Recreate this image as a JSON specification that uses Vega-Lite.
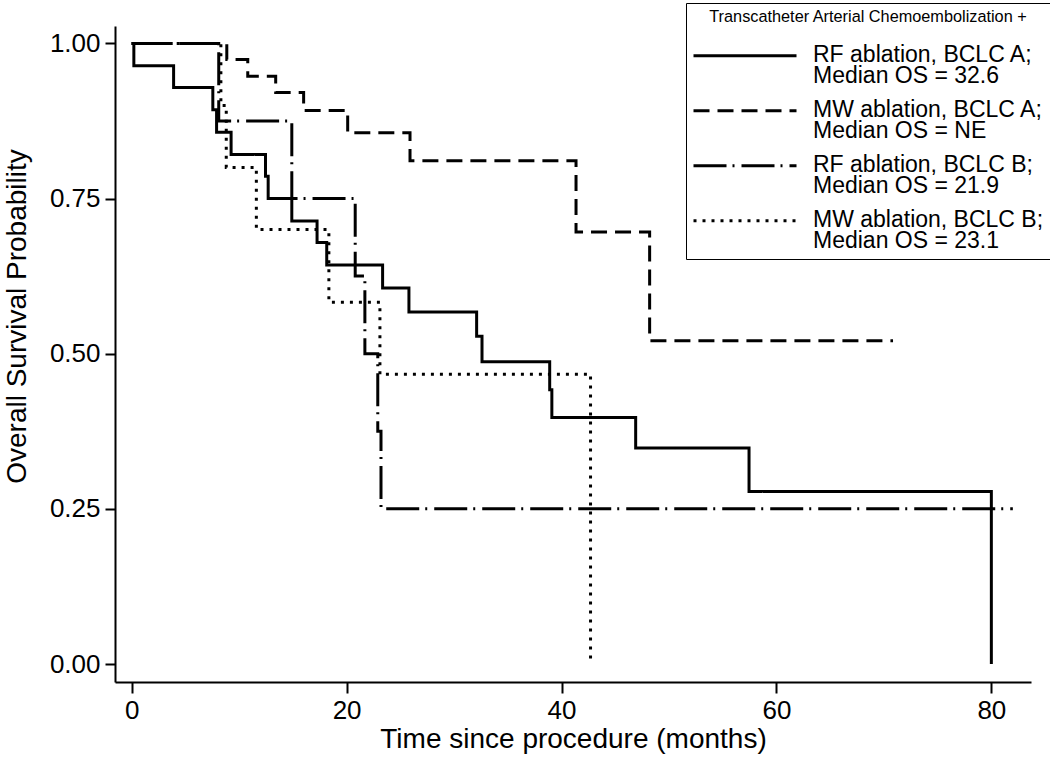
{
  "$schema": "https://vega.github.io/schema/vega-lite/v6.json",
  "width": 916,
  "height": 656,
  "autosize": {"type": "none"},
  "padding": {"left": 115, "top": 26, "right": 19, "bottom": 75},
  "background": "white",
  "config": {"view": {"stroke": null}, "font": "Liberation Sans"},
  "data": {
    "values": [
      {"group": "RF ablation, BCLC A;|Median OS = 32.6", "t": 0, "s": 1.0},
      {"group": "RF ablation, BCLC A;|Median OS = 32.6", "t": 0.2, "s": 0.964},
      {"group": "RF ablation, BCLC A;|Median OS = 32.6", "t": 3.9, "s": 0.929},
      {"group": "RF ablation, BCLC A;|Median OS = 32.6", "t": 7.55, "s": 0.893},
      {"group": "RF ablation, BCLC A;|Median OS = 32.6", "t": 7.9, "s": 0.857},
      {"group": "RF ablation, BCLC A;|Median OS = 32.6", "t": 9.25, "s": 0.821},
      {"group": "RF ablation, BCLC A;|Median OS = 32.6", "t": 12.45, "s": 0.786},
      {"group": "RF ablation, BCLC A;|Median OS = 32.6", "t": 12.7, "s": 0.75},
      {"group": "RF ablation, BCLC A;|Median OS = 32.6", "t": 14.9, "s": 0.714},
      {"group": "RF ablation, BCLC A;|Median OS = 32.6", "t": 17.25, "s": 0.679},
      {"group": "RF ablation, BCLC A;|Median OS = 32.6", "t": 18.15, "s": 0.643},
      {"group": "RF ablation, BCLC A;|Median OS = 32.6", "t": 23.35, "s": 0.606},
      {"group": "RF ablation, BCLC A;|Median OS = 32.6", "t": 25.8, "s": 0.567},
      {"group": "RF ablation, BCLC A;|Median OS = 32.6", "t": 32.1, "s": 0.528},
      {"group": "RF ablation, BCLC A;|Median OS = 32.6", "t": 32.6, "s": 0.487},
      {"group": "RF ablation, BCLC A;|Median OS = 32.6", "t": 38.9, "s": 0.442},
      {"group": "RF ablation, BCLC A;|Median OS = 32.6", "t": 39.1, "s": 0.397},
      {"group": "RF ablation, BCLC A;|Median OS = 32.6", "t": 46.9, "s": 0.348},
      {"group": "RF ablation, BCLC A;|Median OS = 32.6", "t": 57.45, "s": 0.278},
      {"group": "RF ablation, BCLC A;|Median OS = 32.6", "t": 80.0, "s": 0.0},
      {"group": "MW ablation, BCLC A;|Median OS = NE", "t": 0, "s": 1.0},
      {"group": "MW ablation, BCLC A;|Median OS = NE", "t": 8.85, "s": 0.974},
      {"group": "MW ablation, BCLC A;|Median OS = NE", "t": 10.8, "s": 0.947},
      {"group": "MW ablation, BCLC A;|Median OS = NE", "t": 13.4, "s": 0.921},
      {"group": "MW ablation, BCLC A;|Median OS = NE", "t": 16.0, "s": 0.892},
      {"group": "MW ablation, BCLC A;|Median OS = NE", "t": 20.1, "s": 0.856},
      {"group": "MW ablation, BCLC A;|Median OS = NE", "t": 25.9, "s": 0.811},
      {"group": "MW ablation, BCLC A;|Median OS = NE", "t": 41.35, "s": 0.696},
      {"group": "MW ablation, BCLC A;|Median OS = NE", "t": 48.2, "s": 0.521},
      {"group": "MW ablation, BCLC A;|Median OS = NE", "t": 70.85, "s": 0.521},
      {"group": "RF ablation, BCLC B;|Median OS = 21.9", "t": 0, "s": 1.0},
      {"group": "RF ablation, BCLC B;|Median OS = 21.9", "t": 8.1, "s": 0.875},
      {"group": "RF ablation, BCLC B;|Median OS = 21.9", "t": 14.9, "s": 0.75},
      {"group": "RF ablation, BCLC B;|Median OS = 21.9", "t": 20.8, "s": 0.625},
      {"group": "RF ablation, BCLC B;|Median OS = 21.9", "t": 21.7, "s": 0.5},
      {"group": "RF ablation, BCLC B;|Median OS = 21.9", "t": 22.9, "s": 0.375},
      {"group": "RF ablation, BCLC B;|Median OS = 21.9", "t": 23.2, "s": 0.25},
      {"group": "RF ablation, BCLC B;|Median OS = 21.9", "t": 82.0, "s": 0.25},
      {"group": "MW ablation, BCLC B;|Median OS = 23.1", "t": 0, "s": 1.0},
      {"group": "MW ablation, BCLC B;|Median OS = 23.1", "t": 8.3, "s": 0.9},
      {"group": "MW ablation, BCLC B;|Median OS = 23.1", "t": 8.8, "s": 0.8},
      {"group": "MW ablation, BCLC B;|Median OS = 23.1", "t": 11.6, "s": 0.7},
      {"group": "MW ablation, BCLC B;|Median OS = 23.1", "t": 18.35, "s": 0.583},
      {"group": "MW ablation, BCLC B;|Median OS = 23.1", "t": 23.1, "s": 0.467},
      {"group": "MW ablation, BCLC B;|Median OS = 23.1", "t": 42.7, "s": 0.0}
    ]
  },
  "mark": {"type": "line", "interpolate": "step-after", "strokeWidth": 3, "color": "black", "strokeCap": "butt"},
  "encoding": {
    "x": {
      "field": "t", "type": "quantitative",
      "scale": {"domain": [-1.554, 83.69], "nice": false, "zero": false},
      "axis": {
        "values": [0, 20, 40, 60, 80], "title": "Time since procedure (months)", "grid": false,
        "domainColor": "black", "domainWidth": 2, "tickColor": "black", "tickWidth": 2, "tickSize": 11,
        "labelFontSize": 26, "labelColor": "black", "labelPadding": 4,
        "titleFontSize": 28, "titleFontWeight": "normal", "titleColor": "black", "titlePadding": 2
      }
    },
    "y": {
      "field": "s", "type": "quantitative",
      "scale": {"domain": [-0.029, 1.028], "nice": false, "zero": false},
      "axis": {
        "values": [0, 0.25, 0.5, 0.75, 1], "format": ".2f", "title": "Overall Survival Probability", "grid": false,
        "domainColor": "black", "domainWidth": 2, "tickColor": "black", "tickWidth": 2, "tickSize": 10,
        "labelFontSize": 26, "labelColor": "black", "labelPadding": 5,
        "titleFontSize": 28, "titleFontWeight": "normal", "titleColor": "black", "titlePadding": 18, "titleY": 290
      }
    },
    "strokeDash": {
      "field": "group", "type": "nominal",
      "scale": {
        "domain": ["RF ablation, BCLC A;|Median OS = 32.6", "MW ablation, BCLC A;|Median OS = NE", "RF ablation, BCLC B;|Median OS = 21.9", "MW ablation, BCLC B;|Median OS = 23.1"],
        "range": [[1, 0], [16, 8], [33, 6, 2, 7], [3, 6]]
      },
      "legend": {
        "title": "Transcatheter Arterial Chemoembolization +",
        "orient": "none", "legendX": 571, "legendY": -23,
        "titleFontSize": 16.3, "titleFontWeight": "normal", "titleColor": "black", "titleAnchor": "middle", "titlePadding": 25, "titleLimit": 500,
        "labelFontSize": 23, "labelColor": "black", "labelExpr": "split(datum.label, '|')", "labelLimit": 400,
        "labelBaseline": "alphabetic",
        "symbolType": "M-1,-0.6H9.3", "symbolSize": 400, "symbolStrokeWidth": 3, "symbolStrokeColor": "black",
        "labelOffset": 98, "rowPadding": 10, "padding": 6, "strokeColor": "black", "fillColor": "white",
        "encode": {"labels": {"update": {"lineHeight": {"value": 21}}}}
      }
    }
  }
}
